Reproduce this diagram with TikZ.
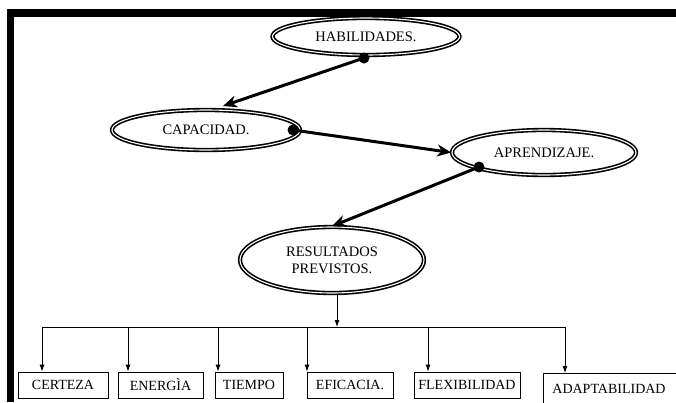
\documentclass[tikz,border=0pt]{standalone}
\usepackage{fontspec}
\setmainfont{Liberation Serif}
\usetikzlibrary{arrows.meta,shapes.geometric}

\begin{document}
\begin{tikzpicture}[x=1pt,y=-1pt,
elip/.style={ellipse,draw,line width=1.6pt,double,double distance=1.1pt,inner sep=0pt,align=center,font=\fontsize{14.5}{17}\selectfont},
caja/.style={rectangle,draw,line width=0.8pt,inner sep=0pt,minimum height=26,font=\fontsize{14}{16}\selectfont},
flecha/.style={line width=3pt,-{Stealth[length=14pt,width=12pt]}},
baja/.style={line width=0.8pt,-{Latex[length=7pt,width=5pt]}}]

\useasboundingbox (0,0) rectangle (676,402);

% marco
\fill (7,9) rectangle (676,17);
\fill (7,9) rectangle (14,402);

\node[elip,minimum width=187,minimum height=37] (hab) at (366,36.5) {HABILIDADES.};
\node[elip,minimum width=188,minimum height=40] (cap) at (206,130) {CAPACIDAD.};
\node[elip,minimum width=184,minimum height=45] (apr) at (544,152.5) {APRENDIZAJE.};
\node[elip,minimum width=184,minimum height=66] (res) at (332,260) {RESULTADOS\\PREVISTOS.};

\coordinate (hdot) at (364,58);
\coordinate (cdot) at (293,130);
\coordinate (adot) at (479,167);
\coordinate (capin) at (223,106);

\draw[flecha] (hdot) -- (capin);
\draw[flecha] (cdot) -- (apr.west);
\draw[flecha] (adot) -- (res.north);
\fill (hdot) circle (5.5);
\fill (cdot) circle (5.5);
\fill (adot) circle (5.5);

\node[caja,minimum width=90] (cer) at (63,385) {CERTEZA};
\node[caja,minimum width=85] (ene) at (160.5,385) {ENERGÌA};
\node[caja,minimum width=68] (tie) at (249,385) {TIEMPO};
\node[caja,minimum width=86] (efi) at (350,385) {EFICACIA.};
\node[caja,minimum width=106] (fle) at (467,385) {FLEXIBILIDAD};
\node[caja,anchor=north west,minimum height=30,text width=130,align=left,inner xsep=9] (ada) at (543,373) {ADAPTABILIDAD};

\coordinate (bus) at (337,327);
\draw[baja] (res.south -| bus) -- (bus);

\foreach \x [count=\i] in {42,128,218,307,428,565}
{
\coordinate (b\i) at (\x,327);
}
\draw[line width=0.8pt] (b1) -- (b6);
\foreach \i/\n in {1/cer,2/ene,3/tie,4/efi,5/fle,6/ada}
{
\draw[baja] (b\i) -- (b\i |- \n.north);
}
\end{tikzpicture}
\end{document}
